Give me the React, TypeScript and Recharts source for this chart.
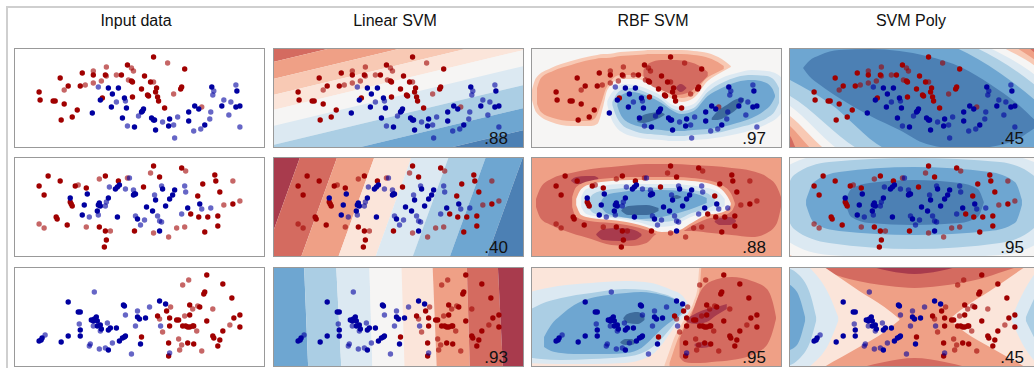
import { Area, ComposedChart, Scatter, XAxis, YAxis } from "recharts";

// point = [x, y, cls]  cls: 0 red train, 1 red test, 2 blue train, 3 blue test
// x runs 0..250 across a panel, y runs 0..100 from the top edge down
const moons = [
  [25, 44, 0], [26, 52, 0], [39, 53, 0], [41, 53, 0], [47, 72, 0], [46, 30, 0], [50, 56, 0], [50, 42, 1],
  [54, 38, 0], [58, 69, 0], [63, 62, 0], [66, 38, 0], [68, 25, 0], [71, 37, 1], [79, 27, 0], [79, 23, 1],
  [79, 35, 1], [78, 65, 2], [84, 39, 3], [86, 52, 2], [87, 33, 1], [88, 50, 0], [91, 27, 0], [92, 28, 1],
  [92, 19, 1], [94, 40, 2], [97, 59, 2], [98, 46, 2], [102, 27, 1], [102, 54, 3], [104, 40, 2], [107, 27, 0],
  [108, 70, 2], [110, 50, 2], [111, 53, 3], [112, 60, 2], [113, 17, 0], [114, 32, 1], [117, 20, 1], [117, 33, 0],
  [118, 34, 0], [118, 49, 0], [119, 23, 1], [113, 78, 3], [120, 79, 2], [124, 68, 3], [127, 64, 2], [128, 63, 2],
  [129, 61, 2], [130, 28, 0], [127, 41, 0], [133, 47, 0], [134, 48, 0], [136, 34, 0], [137, 70, 2], [139, 72, 2],
  [139, 9, 0], [139, 34, 1], [140, 72, 2], [141, 44, 0], [142, 40, 0], [143, 49, 0], [144, 53, 0], [141, 82, 2],
  [148, 74, 3], [150, 60, 0], [153, 15, 1], [154, 78, 2], [155, 71, 2], [159, 77, 3], [159, 46, 1], [160, 90, 3],
  [163, 69, 3], [167, 39, 0], [166, 41, 0], [170, 21, 0], [174, 64, 2], [174, 73, 2], [179, 83, 3], [180, 58, 2],
  [184, 61, 2], [186, 81, 3], [187, 59, 1], [190, 77, 2], [195, 71, 3], [196, 64, 3], [197, 39, 2], [198, 47, 3],
  [199, 43, 3], [207, 58, 2], [209, 52, 3], [214, 67, 3], [216, 54, 3], [221, 37, 3], [222, 43, 2], [221, 59, 2],
  [225, 58, 2], [225, 79, 3],
];

const circles = [
  [25, 29, 0], [34, 19, 0], [30, 38, 0], [46, 24, 0], [25, 67, 1], [30, 71, 1], [42, 60, 0], [43, 62, 0],
  [53, 68, 0], [56, 41, 2], [56, 45, 0], [57, 47, 0], [58, 49, 0], [61, 29, 0], [64, 28, 1], [68, 58, 2],
  [70, 48, 2], [72, 31, 0], [73, 37, 2], [72, 70, 1], [75, 60, 3], [83, 54, 2], [84, 58, 3], [84, 48, 2],
  [85, 46, 2], [86, 49, 2], [85, 22, 1], [91, 19, 0], [91, 49, 3], [92, 45, 3], [94, 41, 2], [85, 70, 0],
  [91, 74, 0], [96, 74, 1], [92, 83, 0], [90, 90, 0], [95, 30, 3], [101, 32, 2], [103, 30, 2], [103, 60, 2],
  [104, 24, 0], [105, 28, 2], [111, 32, 3], [113, 21, 1], [115, 21, 3], [119, 33, 3], [120, 37, 2], [119, 38, 2],
  [121, 37, 2], [120, 74, 0], [121, 59, 3], [123, 62, 2], [126, 68, 3], [129, 30, 0], [130, 63, 3], [132, 50, 2],
  [136, 16, 1], [139, 9, 0], [138, 54, 2], [139, 76, 1], [140, 38, 3], [141, 43, 2], [143, 59, 3], [145, 20, 0],
  [145, 64, 3], [145, 74, 2], [147, 65, 3], [147, 29, 3], [148, 32, 2], [151, 49, 2], [154, 80, 1], [155, 42, 2],
  [158, 38, 2], [160, 33, 2], [162, 71, 1], [167, 11, 0], [171, 14, 1], [167, 57, 3], [170, 29, 3], [171, 35, 3],
  [170, 70, 1], [173, 51, 2], [176, 57, 0], [183, 39, 0], [184, 60, 0], [185, 47, 2], [187, 52, 3], [188, 27, 0],
  [190, 75, 0], [193, 60, 0], [196, 51, 3], [200, 18, 0], [201, 24, 0], [203, 59, 0], [203, 69, 0], [205, 35, 0],
  [209, 48, 1], [218, 24, 1], [218, 47, 0], [225, 44, 1],
];

const blobs = [
  [25, 74, 2], [27, 73, 2], [28, 71, 2], [31, 68, 3], [47, 75, 2], [54, 35, 2], [54, 69, 2], [64, 45, 2],
  [66, 45, 2], [65, 57, 3], [66, 63, 2], [66, 69, 2], [75, 79, 3], [76, 77, 3], [77, 53, 2], [79, 54, 2],
  [80, 52, 2], [82, 50, 2], [83, 54, 2], [80, 25, 3], [79, 59, 3], [83, 59, 2], [86, 58, 2], [87, 62, 2],
  [86, 64, 3], [85, 82, 3], [91, 81, 3], [93, 56, 3], [94, 83, 2], [94, 63, 2], [96, 61, 2], [98, 76, 3],
  [102, 61, 2], [105, 74, 2], [108, 71, 2], [110, 70, 2], [111, 69, 2], [109, 38, 2], [110, 39, 2], [111, 48, 3],
  [117, 87, 3], [121, 59, 3], [123, 50, 2], [123, 44, 3], [125, 52, 2], [126, 77, 2], [127, 70, 0], [131, 51, 2],
  [135, 40, 3], [143, 49, 0], [145, 34, 2], [145, 52, 1], [146, 59, 3], [148, 65, 1], [151, 37, 2], [152, 44, 0],
  [155, 51, 0], [155, 59, 0], [156, 40, 1], [154, 76, 0], [155, 86, 3], [154, 89, 0], [162, 53, 0], [164, 53, 0],
  [164, 72, 1], [167, 78, 1], [165, 83, 1], [168, 18, 1], [168, 59, 0], [170, 49, 1], [171, 59, 0], [173, 60, 0],
  [173, 76, 0], [174, 13, 1], [175, 38, 0], [175, 48, 0], [175, 60, 0], [178, 59, 0], [178, 42, 1], [179, 59, 0],
  [179, 77, 0], [182, 64, 1], [183, 39, 1], [185, 40, 0], [187, 84, 1], [189, 27, 0], [190, 25, 0], [192, 54, 0],
  [192, 8, 0], [198, 42, 1], [198, 69, 0], [199, 71, 0], [203, 79, 0], [205, 73, 0], [208, 64, 0], [208, 17, 0],
  [215, 58, 1], [217, 31, 0], [219, 51, 0], [225, 48, 0], [225, 60, 0],
];

const titles = ["Input data", "Linear SVM", "RBF SVM", "SVM Poly"];
const scores = [
  [".88", ".97", ".45"],
  [".40", ".88", ".95"],
  [".93", ".95", ".45"],
];

// linear SVM: straight band boundaries
const linMoonsLeft = [14, 31, 47, 62, 78, 97, 120, 142];
const linMoonsRight = [-46, -29, -13, 2, 18, 37, 60, 82];
const linMoonsBands = ["r3", "r2", "r1", "r0", "w", "b0", "b1", "b2", "b3"];
const linCirclesTop = [27, 64, 101, 138, 175, 212, 249];
const linCirclesBottom = [-9, 28, 65, 102, 139, 176, 213];
const linCirclesBands = ["r4", "r3", "r2", "r0", "b0", "b1", "b2", "b3"];
const linBlobsTop = [31, 63, 96, 128, 159, 193, 224];
const linBlobsBottom = [35, 68, 99, 131, 163, 196, 229];
const linBlobsBands = ["b2", "b1", "b0", "w", "r0", "r2", "r3", "r4"];

// contour levels: [x, top, bottom]
const rbfMoons = [
  { c: "r1", pts: [[1, 42, 52], [5, 30, 64], [20, 20, 74], [40, 13, 78], [60, 8, 78], [66, 7, 76], [72, 6, 58], [76, 6, 42], [89, 4, 31], [105, 3, 31], [120, 2, 37], [139, 2, 50], [150, 2, 54], [162, 3, 50], [176, 5, 33], [190, 11, 24], [199, 18, 19]] },
  { c: "r2", pts: [[6, 40, 56], [10, 30, 64], [22, 23, 70], [40, 17, 73], [58, 12, 73], [64, 11, 70], [70, 10, 55], [75, 10, 40], [89, 8, 27], [105, 7, 27], [120, 6, 33], [139, 6, 46], [150, 6, 50], [162, 7, 46], [174, 9, 31], [186, 14, 24], [192, 18, 21]] },
  { c: "r3", pts: [[112, 22, 28], [118, 15, 36], [130, 12, 42], [145, 12, 47], [158, 14, 44], [168, 18, 36], [176, 24, 28]] },
  { c: "r4", pts: [[144, 40, 40], [149, 36, 44], [155, 40, 40]] },
  { c: "b0", pts: [[76, 53, 57], [79, 47, 68], [84, 41, 78], [92, 36, 85], [104, 37, 89], [116, 41, 91], [130, 48, 92], [139, 56, 93], [150, 59, 93], [162, 56, 92], [176, 39, 91], [190, 30, 89], [205, 25, 86], [220, 22, 82], [235, 23, 76], [245, 26, 70], [252, 32, 62]] },
  { c: "b1", pts: [[81, 54, 57], [84, 48, 66], [90, 42, 76], [100, 40, 82], [116, 45, 86], [130, 52, 87], [140, 60, 88], [150, 63, 88], [162, 60, 87], [176, 44, 86], [190, 35, 84], [205, 29, 80], [220, 27, 76], [235, 28, 70], [243, 33, 63], [247, 40, 55]] },
  { c: "b2", pts: [[86, 54, 58], [90, 47, 68], [100, 44, 76], [116, 48, 80], [130, 55, 82], [140, 62, 83], [150, 66, 83], [162, 63, 82], [176, 48, 81], [190, 40, 79], [205, 34, 75], [220, 32, 70], [232, 34, 63], [240, 40, 55], [243, 47, 49]] },
  { c: "b4", pts: [[106, 72, 74], [112, 67, 75], [120, 65, 73], [128, 64, 70], [133, 66, 67]] },
  { c: "b4", pts: [[180, 70, 72], [186, 63, 72], [195, 57, 68], [205, 51, 61], [212, 50, 53]] },
];

const rbfCircles = [
  { c: "r3", pts: [[5, 42, 50], [10, 30, 62], [20, 22, 68], [40, 16, 76], [60, 12, 82], [80, 10, 88], [100, 8, 89], [115, 7, 86], [125, 7, 77], [140, 7, 74], [160, 8, 74], [180, 9, 76], [200, 11, 78], [220, 14, 80], [235, 20, 76], [245, 30, 66], [249, 40, 50]] },
  { c: "r4", pts: [[40, 23, 24], [45, 20, 27], [55, 19, 27], [63, 19, 25], [67, 21, 22]] },
  { c: "r4", pts: [[65, 77, 78], [72, 72, 83], [88, 71, 84], [103, 73, 83], [110, 77, 79]] },
  { c: "r4", pts: [[183, 64, 65], [188, 61, 68], [198, 60, 68], [204, 63, 65]] },
  { c: "r2", pts: [[41, 40, 50], [45, 30, 60], [58, 24, 64], [80, 21, 66], [100, 20, 69], [115, 20, 73], [130, 20, 78], [145, 20, 77], [160, 21, 69], [175, 23, 62], [190, 28, 59], [200, 38, 54], [203, 46, 48]] },
  { c: "w", pts: [[45, 42, 48], [50, 32, 58], [60, 27, 61], [80, 24, 63], [100, 23, 66], [115, 23, 70], [130, 23, 75], [145, 23, 74], [160, 24, 66], [175, 26, 58], [188, 31, 56], [196, 40, 52], [199, 46, 48]] },
  { c: "b0", pts: [[50, 40, 50], [55, 32, 57], [70, 29, 60], [90, 27, 62], [110, 27, 66], [125, 27, 70], [140, 27, 69], [155, 28, 62], [170, 30, 56], [185, 34, 53], [193, 42, 49]] },
  { c: "b1", pts: [[57, 44, 50], [62, 37, 56], [75, 33, 59], [95, 31, 61], [115, 30, 64], [130, 31, 65], [145, 31, 63], [160, 33, 56], [175, 36, 52], [183, 42, 48]] },
  { c: "b2", pts: [[70, 44, 50], [75, 38, 56], [90, 35, 60], [110, 33, 62], [130, 33, 60], [150, 34, 55], [165, 37, 50], [175, 41, 46]] },
  { c: "b4", pts: [[90, 53, 54], [97, 49, 58], [115, 48, 58], [127, 51, 54]] },
  { c: "b4", pts: [[140, 40, 40], [145, 38, 42], [150, 40, 40]] },
];

const rbfBlobs = [
  { c: "b0", pts: [[-5, 26, 96], [27, 19, 97], [60, 16, 97], [93, 14, 96], [120, 16, 88], [130, 19, 78], [140, 23, 64], [150, 28, 52], [156, 36, 47], [159, 42, 44]] },
  { c: "b1", pts: [[-5, 45, 90], [10, 37, 92], [30, 31, 93], [60, 26, 92], [93, 22, 90], [115, 23, 84], [128, 26, 74], [140, 30, 60], [148, 36, 50], [152, 42, 46]] },
  { c: "b2", pts: [[13, 70, 80], [20, 58, 84], [30, 48, 86], [43, 38, 87], [60, 31, 87], [77, 28, 87], [95, 26, 86], [110, 25, 81], [120, 26, 72], [130, 28, 62], [140, 31, 54], [148, 36, 48], [151, 41, 44]] },
  { c: "b4", pts: [[92, 51, 52], [96, 47, 56], [106, 45, 57], [113, 49, 53]] },
  { c: "b4", pts: [[89, 75, 76], [94, 72, 78], [100, 72, 78], [104, 75, 76]] },
  { c: "r1", pts: [[133, 98, 101], [138, 84, 101], [143, 70, 101], [150, 57, 101], [156, 47, 101], [162, 35, 101], [166, 20, 101], [168, -1, 101], [255, -1, 101]] },
  { c: "r2", pts: [[138, 96, 101], [142, 84, 101], [147, 70, 101], [153, 58, 101], [158, 48, 101], [164, 36, 101], [168, 22, 101], [170, -1, 101], [255, -1, 101]] },
  { c: "r3", pts: [[148, 72, 90], [153, 60, 95], [160, 47, 96], [168, 26, 96], [180, 14, 95], [200, 10, 93], [220, 14, 88], [235, 22, 78], [242, 40, 60], [244, 50, 52]] },
  { c: "r4", pts: [[155, 52, 55], [165, 46, 57], [175, 42, 55], [185, 40, 48], [195, 37, 42]] },
  { c: "r4", pts: [[163, 77, 79], [170, 75, 81], [180, 76, 79]] },
];

const polyMoons = [
  { c: "r2", pts: [[-80, -30, 50], [1, -45, 88], [7, -48, 100], [120, -48, 165], [239, 0, 175], [245, 5, 172], [330, 100, 130]] },
  { c: "r1", pts: [[-70, -25, 45], [1, -40, 78], [21, -45, 100], [120, -42, 155], [227, 0, 165], [245, 12, 158], [320, 95, 125]] },
  { c: "w", pts: [[-60, -20, 40], [1, -35, 68], [34, -40, 100], [120, -35, 145], [214, 0, 155], [245, 18, 145], [310, 90, 120]] },
  { c: "b0", pts: [[-50, -15, 35], [1, -30, 58], [47, -38, 100], [120, -28, 135], [200, 0, 145], [245, 27, 135], [300, 85, 115]] },
  { c: "b1", pts: [[-40, -10, 30], [1, -25, 48], [67, -30, 100], [120, -20, 125], [187, 0, 135], [245, 37, 125], [290, 80, 110]] },
  { c: "b2", pts: [[-25, -5, 20], [1, -15, 32], [40, -22, 55], [94, -20, 100], [130, -12, 112], [167, 0, 118], [210, 25, 115], [245, 52, 110], [270, 75, 100]] },
  { c: "b3", pts: [[14, 20, 20], [20, 13, 28], [31, 7, 37], [50, 2, 50], [81, 1, 68], [110, 3, 82], [137, 8, 96], [173, 20, 101], [200, 36, 99], [230, 58, 90], [245, 72, 80], [250, 76, 77]] },
];

const polyCircles = [
  { c: "r1", pts: [[-55, 40, 52], [-20, -8, 100], [40, -25, 118], [124, -30, 122], [210, -25, 118], [270, -8, 100], [305, 40, 52]] },
  { c: "w", pts: [[-40, 40, 52], [-10, 0, 92], [40, -15, 108], [124, -20, 112], [210, -15, 108], [260, 0, 92], [290, 40, 52]] },
  { c: "b0", pts: [[-25, 40, 52], [0, 8, 85], [40, -3, 98], [124, -6, 101], [210, -3, 98], [250, 8, 85], [275, 40, 52]] },
  { c: "b1", pts: [[-5, 40, 52], [5, 18, 72], [40, 5, 86], [124, 1, 92], [210, 5, 86], [243, 18, 72], [253, 40, 52]] },
  { c: "b2", pts: [[17, 43, 48], [25, 25, 66], [50, 15, 74], [124, 10, 78], [200, 15, 74], [225, 25, 66], [232, 43, 48]] },
  { c: "b3", pts: [[56, 45, 46], [62, 32, 60], [80, 26, 66], [124, 23, 68], [170, 26, 66], [188, 32, 60], [194, 45, 46]] },
];

const polyBlobs = [
  { c: "r3", pts: [[20, -10, -1], [35, -10, 4], [60, -10, 12], [100, -10, 19], [125, -10, 21], [150, -10, 19], [190, -10, 12], [215, -10, 4], [230, -10, -1]] },
  { c: "r4", pts: [[80, -10, -1], [100, -10, 4], [125, -10, 7], [150, -10, 4], [170, -10, -1]] },
  { c: "r3", pts: [[70, 101, 110], [95, 95, 110], [125, 91, 110], [155, 95, 110], [180, 101, 110]] },
  { c: "r0", pts: [[-10, -30, 130], [35, 0, 100], [70, 24, 80], [95, 40, 65], [110, 52, 53]] },
  { c: "r0", pts: [[160, 52, 53], [175, 40, 65], [200, 24, 80], [235, 0, 100], [280, -30, 130]] },
  { c: "b0", pts: [[-10, -20, 120], [20, 0, 100], [40, 28, 76], [49, 50, 54]] },
  { c: "b1", pts: [[-5, 0, 100], [10, 8, 92], [22, 30, 72], [27, 50, 54]] },
  { c: "b2", pts: [[-5, 15, 85], [8, 25, 78], [16, 50, 54]] },
  { c: "b0", pts: [[222, 50, 54], [232, 28, 76], [250, 0, 100], [280, -20, 120]] },
  { c: "b1", pts: [[236, 50, 54], [245, 30, 72], [260, 5, 95]] },
];

const palette: Record<string, string> = {
  r4: "#a83b4d",
  r3: "#d46b60",
  r2: "#efa086",
  r1: "#f8c9b4",
  r0: "#fbe5da",
  w: "#f6f5f4",
  b0: "#dce9f2",
  b1: "#abcee4",
  b2: "#6ea6d1",
  b3: "#4c80b4",
  b4: "#3e6c9c",
};
const dotColors = ["#a00000", "#a00000", "#0000a0", "#0000a0"];
const dotOpacity = [1, 0.6, 1, 0.6];

type Level = { c: string; pts: number[][]; linear?: boolean };

function hBands(left: number[], right: number[], bands: string[]): Level[] {
  const l = [-300, ...left, 400];
  const r = [-300, ...right, 400];
  return bands.map((c, i) => ({
    c,
    linear: true,
    pts: [[0, l[i], l[i + 1]], [250, r[i], r[i + 1]]],
  }));
}

// band between two slanted near-vertical lines, each given as [xTop, xBottom]
function span(a: number[], b: number[], x: number) {
  let lo = 0;
  let hi = 100;
  const cut = (ln: number[], le: boolean) => {
    const [t, bo] = ln;
    if (t === bo) {
      if (le ? t > x : t < x) lo = 101;
      return;
    }
    const p = ((x - t) / (bo - t)) * 100;
    if (le === bo > t) hi = Math.min(hi, p);
    else lo = Math.max(lo, p);
  };
  cut(a, true);
  cut(b, false);
  if (lo > hi) hi = lo = Math.min(Math.max(lo, 0), 100);
  return [lo, hi];
}

function vBands(tops: number[], bottoms: number[], bands: string[]): Level[] {
  const lines = [[-300, -300], ...tops.map((t, i) => [t, bottoms[i]]), [550, 550]];
  return bands.map((c, i) => {
    const a = lines[i];
    const b = lines[i + 1];
    const xs = [a[0], a[1], b[0], b[1]].sort((p, q) => p - q);
    return { c, linear: true, pts: xs.map((x) => [x, ...span(a, b, x)]) };
  });
}

const rows = [
  { points: moons, levels: [hBands(linMoonsLeft, linMoonsRight, linMoonsBands), rbfMoons, polyMoons], bg: ["w", "w", "r3"] },
  { points: circles, levels: [vBands(linCirclesTop, linCirclesBottom, linCirclesBands), rbfCircles, polyCircles], bg: ["w", "r2", "r2"] },
  { points: blobs, levels: [vBands(linBlobsTop, linBlobsBottom, linBlobsBands), rbfBlobs, polyBlobs], bg: ["w", "r0", "r2"] },
];

const colLeft = [14, 273, 531, 789];
const rowTop = [48, 157, 267];
const PW = 251;
const PH = 100;
const font = "'Liberation Sans', Arial, sans-serif";

const Dot = (props: any) => (
  <circle cx={props.cx} cy={props.cy} r={2.7} fill={props.fill} fillOpacity={props.fillOpacity} />
);

const Panel = ({ points, levels, bg, score }: { points: number[][]; levels: Level[]; bg: string; score?: string }) => (
  <div style={{ position: "relative", width: PW, height: PH, background: bg }}>
    <ComposedChart width={PW} height={PH} margin={{ top: 0, right: 0, bottom: 0, left: 0 }}>
      <XAxis type="number" dataKey="x" domain={[0, 250]} hide allowDataOverflow />
      <YAxis type="number" dataKey="y" domain={[0, 100]} reversed hide allowDataOverflow />
      {levels.map((lv, i) => (
        <Area
          key={i}
          data={lv.pts.map(([x, lo, hi]) => ({ x, r: [lo, hi] }))}
          dataKey="r"
          type={lv.linear ? "linear" : "monotone"}
          stroke="none"
          fill={palette[lv.c]}
          fillOpacity={1}
          dot={false}
          activeDot={false}
          isAnimationActive={false}
        />
      ))}
      {[0, 1, 2, 3].map((cls) => (
        <Scatter
          key={cls}
          data={points.filter((p) => p[2] === cls).map((p) => ({ x: p[0], y: p[1] }))}
          fill={dotColors[cls]}
          fillOpacity={dotOpacity[cls]}
          shape={Dot}
          isAnimationActive={false}
        />
      ))}
    </ComposedChart>
    <div style={{ position: "absolute", inset: 0, border: "1px solid #999" }} />
    {score && (
      <div style={{ position: "absolute", right: 16, bottom: 1, fontFamily: font, fontSize: 17, lineHeight: "17px", color: "#111" }}>
        {score}
      </div>
    )}
  </div>
);

export default function App() {
  return (
    <div style={{ position: "absolute", left: 0, top: 0, width: 1034, height: 368, overflow: "hidden", background: "#fff" }}>
      <div style={{ position: "absolute", left: 6, top: 6, width: 1040, height: 400, borderTop: "2px solid #cfcfcf", borderLeft: "2px solid #cfcfcf" }} />
      {titles.map((t, c) => (
        <div key={t} style={{ position: "absolute", left: colLeft[c] + 125 - 103, top: 13, width: 200, textAlign: "center", fontFamily: font, fontSize: 16, lineHeight: "16px", color: "#111" }}>
          {t}
        </div>
      ))}
      {rows.map((row, r) =>
        colLeft.map((left, c) => (
          <div key={`${r}-${c}`} style={{ position: "absolute", left, top: rowTop[r] }}>
            <Panel
              points={row.points}
              levels={c === 0 ? [] : row.levels[c - 1]}
              bg={c === 0 ? "#fff" : palette[row.bg[c - 1]]}
              score={c === 0 ? undefined : scores[r][c - 1]}
            />
          </div>
        ))
      )}
    </div>
  );
}
